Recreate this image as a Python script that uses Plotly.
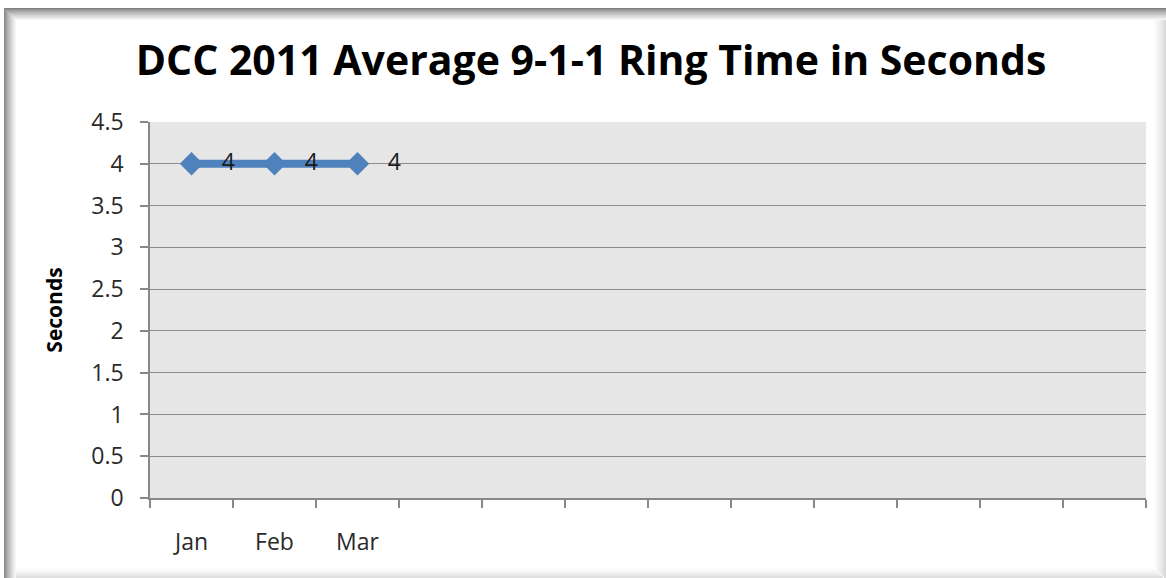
import plotly.graph_objects as go

# Data
categories = ["Jan", "Feb", "Mar", " ", "  ", "   ", "    ", "     ", "      ", "       ", "        ", "         "]
ring_time = [4, 4, 4]
labels = ["4", "4", "4"]
y_ticks = [0, 0.5, 1, 1.5, 2, 2.5, 3, 3.5, 4, 4.5]
y_ticktext = ["0", "0.5", "1", "1.5", "2", "2.5", "3", "3.5", "4", "4.5"]

W, H = 1166, 578
L, R, T, B = 150, 20, 122, 80
PW, PH = W - L - R, H - T - B

def px(x):
    return (x - L) / PW

def py(y):
    return 1 - (y - T) / PH

def gray(v):
    v = int(round(v))
    return f"rgb({v},{v},{v})"

shapes = []
# inner-shadow frame: dark on top/left, light on right/bottom
for i in range(13):
    f = i / 12
    c = gray(128 + (255 - 128) * f ** 0.8)
    y = 8 + i + 0.5
    shapes.append(dict(type="line", xref="paper", yref="paper",
                       x0=px(4 + i), x1=px(W), y0=py(y), y1=py(y),
                       line=dict(color=c, width=1), layer="below"))
for i in range(13):
    f = i / 12
    c = gray(135 + (255 - 135) * f ** 0.8)
    x = 4 + i + 0.5
    shapes.append(dict(type="line", xref="paper", yref="paper",
                       x0=px(x), x1=px(x), y0=py(8 + i), y1=py(H),
                       line=dict(color=c, width=1), layer="below"))
for i in range(14):
    f = i / 13
    c = gray(255 - (255 - 215) * f ** 1.5)
    x = W - 14 + i + 0.5
    shapes.append(dict(type="line", xref="paper", yref="paper",
                       x0=px(x), x1=px(x), y0=py(20), y1=py(H - 12 + i),
                       line=dict(color=c, width=1), layer="below"))
for i in range(12):
    f = i / 11
    c = gray(255 - (255 - 222) * f ** 1.5)
    y = H - 12 + i + 0.5
    shapes.append(dict(type="line", xref="paper", yref="paper",
                       x0=px(16), x1=px(W - 14 + i), y0=py(y), y1=py(y),
                       line=dict(color=c, width=1), layer="below"))

fig = go.Figure()
fig.add_trace(go.Scatter(
    x=categories[:len(ring_time)], y=ring_time,
    mode="lines+markers+text",
    line=dict(color="#4F81BD", width=8),
    marker=dict(symbol="diamond", size=18, color="#4F81BD"),
    text=["   " + t for t in labels], textposition="middle right",
    textfont=dict(family="Open Sans", size=23, color="#1a1a1a"),
    cliponaxis=False, showlegend=False,
))

fig.update_layout(
    width=W, height=H,
    margin=dict(l=L, r=R, t=T, b=B),
    paper_bgcolor="white",
    plot_bgcolor="#E6E6E6",
    shapes=shapes,
    title=dict(text="<b>DCC 2011 Average 9-1-1 Ring Time in Seconds</b>",
               x=(140 + 1042) / 2 / W, xanchor="center", y=1 - 61 / H, yanchor="middle",
               font=dict(family="Open Sans", size=41, color="#000000")),
    xaxis=dict(type="category", categoryorder="array", categoryarray=categories,
               range=[-0.5, len(categories) - 0.5],
               tickson="boundaries", ticks="outside", ticklen=8, tickcolor="#888888", tickwidth=1.5,
               showline=True, linecolor="#888888", linewidth=1.5,
               showgrid=False, zeroline=False,
               tickfont=dict(family="Open Sans", size=23, color="#2a2a2a"),
               ticklabelstandoff=23, fixedrange=True),
    yaxis=dict(range=[0, 4.5], tickvals=y_ticks, ticktext=y_ticktext,
               ticks="outside", ticklen=8, tickcolor="#888888", tickwidth=1.5,
               showline=True, linecolor="#888888", linewidth=1.5,
               showgrid=True, gridcolor="#8c8c8c", gridwidth=1.2, zeroline=False,
               tickfont=dict(family="Open Sans", size=23, color="#2a2a2a"),
               ticklabelstandoff=12,
               title=dict(text="<b>Seconds</b>", standoff=23,
                          font=dict(family="Open Sans", size=21, color="#000000"))),
)

fig.write_html("out.html")
